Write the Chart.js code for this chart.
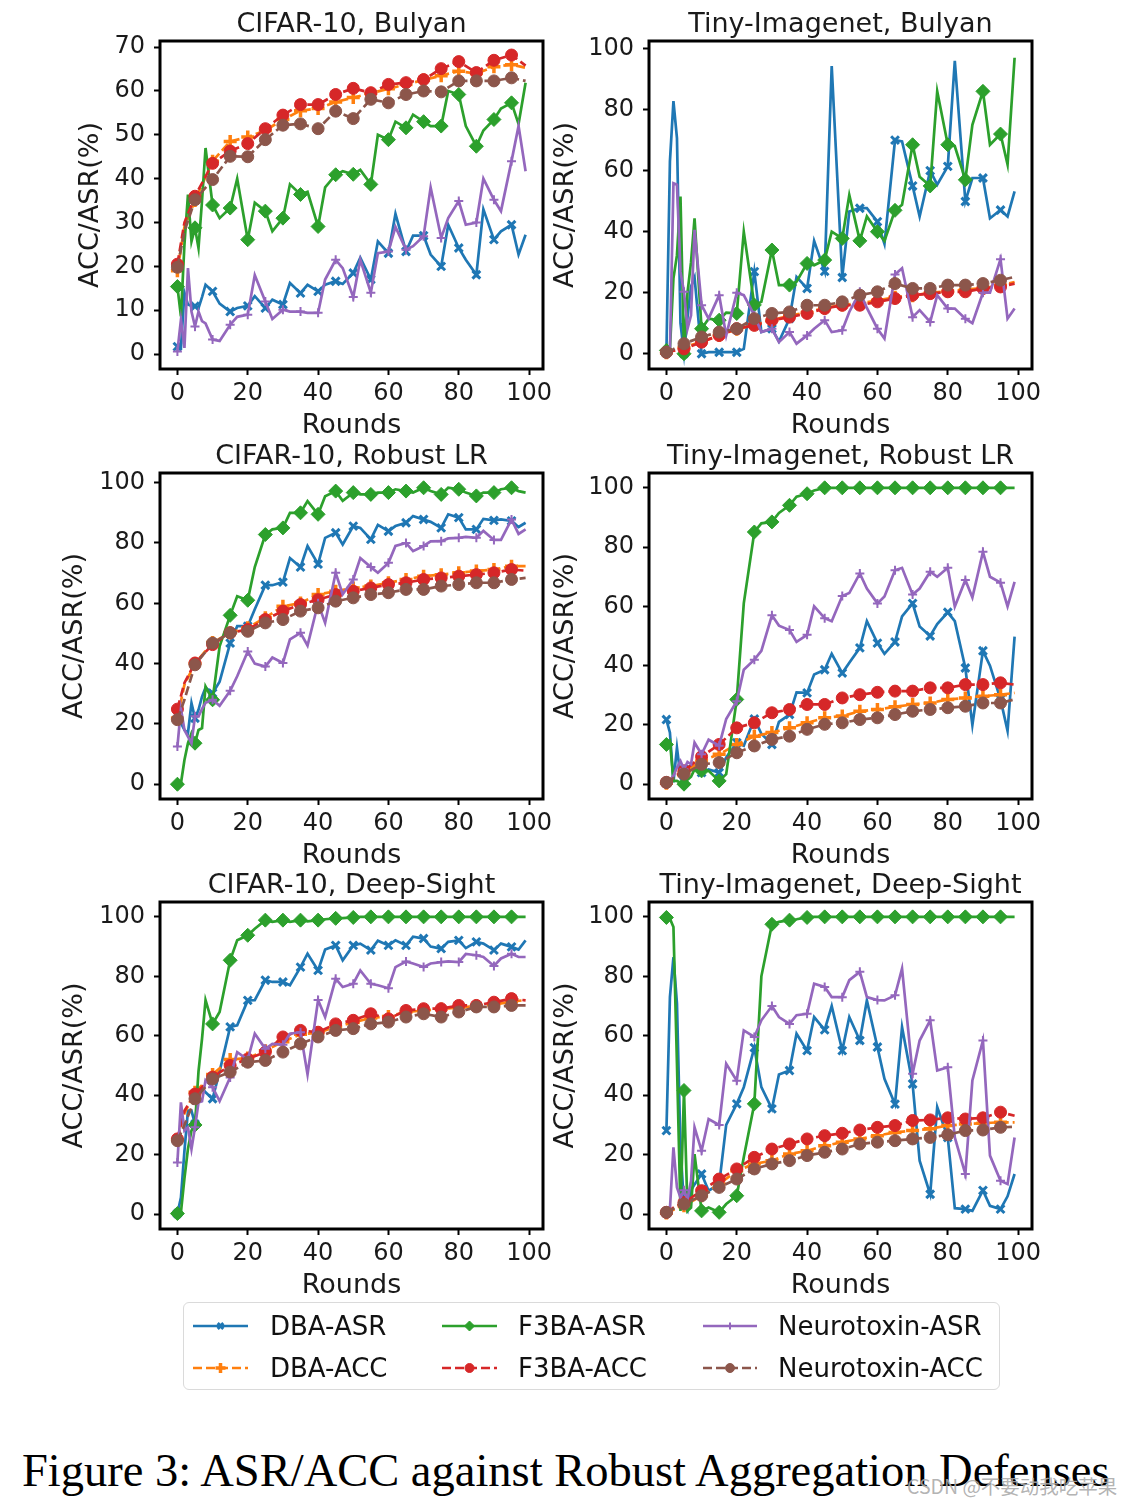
<!DOCTYPE html>
<html>
<head>
<meta charset="utf-8">
<title>ASR/ACC against Robust Aggregation Defenses</title>
<script src="https://cdn.jsdelivr.net/npm/chart.js@4.4.1/dist/chart.umd.min.js"></script>
<style>
html,body{margin:0;padding:0;background:#fff;}
body{width:1133px;height:1504px;position:relative;overflow:hidden;}
.panel{position:absolute;}
#legendBox{position:absolute;left:183px;top:1302px;width:817px;height:88px;box-sizing:border-box;border:1.5px solid #dadada;border-radius:6px;background:#fff;}
#legendCanvas{position:absolute;left:183px;top:1302px;}
.lg{position:absolute;font-family:"DejaVu Sans",sans-serif;font-size:26px;line-height:30px;height:30px;color:#111;white-space:nowrap;}
#caption{position:absolute;left:22px;top:1448px;font-family:"Liberation Serif","Times New Roman",serif;font-size:46.5px;line-height:46px;color:#000;white-space:nowrap;}
#watermark{position:absolute;left:907px;top:1476px;font-family:"Noto Sans CJK SC","Noto Sans",sans-serif;font-size:19.5px;line-height:20px;color:rgba(170,170,170,0.9);white-space:nowrap;}
</style>
</head>
<body>
<div id="legendBox"></div>
<canvas id="legendCanvas" width="817" height="88"></canvas>
<div id="caption">Figure 3: ASR/ACC against Robust Aggregation Defenses</div>
<div id="watermark">CSDN @不要动我吃苹果</div>
<script>
// ---------------- DATA ----------------
const ROUNDS_ASR = [0,1,2,3,4,5,6,7,8,10,12,15,17,20,22,25,27,30,32,35,37,40,42,45,47,50,52,55,57,60,62,65,67,70,72,75,77,80,82,85,87,90,92,95,97,99];
const ROUNDS_ACC = [0,2,5,10,15,20,25,30,35,40,45,50,55,60,65,70,75,80,85,90,95,99];
const SERIES = ['DBA-ASR','DBA-ACC','F3BA-ASR','F3BA-ACC','Neurotoxin-ASR','Neurotoxin-ACC'];
const PANEL_TITLES = ['CIFAR-10, Bulyan','Tiny-Imagenet, Bulyan','CIFAR-10, Robust LR','Tiny-Imagenet, Robust LR','CIFAR-10, Deep-Sight','Tiny-Imagenet, Deep-Sight'];
const X_TICKS = [0,20,40,60,80,100];
const Y_TICKS_70 = [0,10,20,30,40,50,60,70];
const Y_TICKS_100 = [0,20,40,60,80,100];
const X_TITLE = 'Rounds';
const Y_TITLE = 'ACC/ASR(%)';

// CIFAR-10, Bulyan
const c10_bulyan_dbaAsr = [1.7,1.4,14,11.3,11,10.9,10.5,13,15.8,14.3,11.5,9.7,10.5,11,13.2,10.5,12.4,11.3,16.2,13.9,15.8,14.3,15.8,16.6,16,18.5,22,17,25.7,23,32,23.4,27,27,22.7,20,29.5,24.2,21.5,18.1,33,26.1,28,29.5,22.7,27.2];
const c10_bulyan_dbaAcc = [19,29,35,44,48.5,49.5,51,53.5,55.5,56,57.5,58.5,59.5,60.5,61.5,62.5,63.5,64.5,64,65.5,66,65.3];
const c10_bulyan_f3baAsr = [15.4,8.6,25,36.4,25.7,28.8,24.2,35,47,34,31,33.3,40,26.1,34.5,32.6,28,31,38.7,36.4,37,29.1,38,40.9,41.7,41,42,38.7,50,48.9,53,51.6,54.6,53,52,52,60,59.2,52,47.4,51,53.5,56,57.3,52.5,61.9];
const c10_bulyan_f3baAcc = [20.5,30,36,43.5,46.3,48,51.4,54.5,56.9,56.9,59.2,60.6,59.6,61.5,61.9,62.6,65.1,66.7,64.2,67,68.2,65.8];
const c10_bulyan_neuroAsr = [0.6,7.8,1.4,19.6,9.7,6.3,9.7,7.5,7,3.3,3,6.7,8.5,9,18,12,8,10.1,9.7,9.7,9.4,9.4,17,21.5,19.6,13,21.5,14,23,23.4,29,23.8,24.6,26.9,38,26.5,31,34.9,29.5,30,40,35.2,32.6,44,52,41.7];
const c10_bulyan_neuroAcc = [19.8,28,35.2,39.8,45.1,45,48.9,52.2,52.5,51.4,55.4,53.7,58.1,57.3,59.2,60,59.8,62.3,62.3,62.3,63,62.3];

// Tiny-Imagenet, Bulyan
const tiny_bulyan_dbaAsr = [0.5,63,82.8,70.7,10,0,12,22,25,0,0.5,0.5,0.5,0.5,1.6,26.9,7.1,8.2,4,11.5,25.2,21.4,37,27,94.3,25,46.6,47.7,47.7,43.3,36,70,69.6,55,45,60,55.4,61.4,96,49.9,57.6,57.6,44.4,47.1,45,53.2];
const tiny_bulyan_dbaAcc = [0.3,1,2,4,6,8,9.5,11,12.5,13.5,15,16,16.5,17.5,18.5,19,20,20.5,21,21.5,22.5,23.5];
const tiny_bulyan_f3baAsr = [1.1,1.6,24.7,32.3,51.5,0,20,30,44.4,8.2,11.5,11,13.5,13.2,40,16,17,34,22.5,22.5,23.6,29.6,29,30.7,40,37.8,52,37,45,40,37,47,48.8,68.5,58,55,86,68.5,68,57,75,86,68.5,72,62,97];
const tiny_bulyan_f3baAcc = [0.5,1,1.6,3.8,6,8.2,9.3,11,12,13.2,14.8,15.9,15.9,17,18.1,19.2,19.7,20.3,20.3,21.4,21.9,23];
const tiny_bulyan_neuroAsr = [0,0.5,55.9,55.4,26.9,20.3,8.2,12.6,40.6,15.9,11.5,19.2,6,20,19.2,12.6,7.1,8.2,3.8,7.1,3.3,6,8.2,11,7.1,7.7,13.7,20.3,15,8.2,5,26,28,12,14.3,10.4,19.2,14.8,14.8,11.5,10,20,20,31,11.5,14.8];
const tiny_bulyan_neuroAcc = [0.5,1.5,3.3,5.5,7.1,8.2,11.5,13.2,13.7,15.9,15.9,17,19.2,20.3,23,21.4,21.4,22.5,22.5,23,24.1,25.2];

// CIFAR-10, Robust LR
const c10_rlr_dbaAsr = [24.7,20.3,18,17,26.9,21.9,24.7,29,32,30.2,34,46.8,52.4,52.4,58,66,66,67,75,72,79,73,81.7,83.4,79.5,85.6,85,81.2,86,83.9,85.6,86.7,88.9,87.8,87,85,89.5,88.4,84.5,84.5,88,87.5,87.8,87.3,85.3,86.7];
const c10_rlr_dbaAcc = [22,33,40,47,50.2,51.9,55.2,59,60.1,62.9,64,65.1,65.7,66.8,67.9,69,69.5,70.1,70.7,71.2,72.3,72.3];
const c10_rlr_f3baAsr = [0,0.3,8,13.6,16.9,13.6,18,18.6,32.4,28,45.7,56,62.3,61,72,82.8,84.5,85,90,90,93.9,89.5,95.5,97.2,94,96.7,96.1,96.1,96.7,96.7,97.8,97.2,96.7,98.3,97.2,96.1,98.3,97.8,96.7,95.6,96.7,96.7,97.8,98.3,97.2,96.7];
const c10_rlr_f3baAcc = [24.9,33.6,40.2,46.3,50.2,51.3,54.6,57.4,59.6,61.2,62.9,64,65.1,66.2,66.8,67.9,68.4,69,69.5,70.1,71.2,70.8];
const c10_rlr_neuroAsr = [12.5,25,18,15.8,13.6,22.5,22.5,25,27,28,26,31,35.8,44,40,39,42,40.2,48,50.2,46,60,53.5,70.1,63,67.9,75,72,70.1,73.4,79,80,77.3,79,80.5,80.6,81.5,81.7,82,81.7,84,81,81,87.8,83,84.5];
const c10_rlr_neuroAcc = [21.4,28,39.6,46.8,50.2,50.7,53.5,54.6,57.4,58.5,60.7,61.8,62.9,63.5,64.6,64.6,65.7,66.2,66.8,66.8,67.9,68.4];

// Tiny-Imagenet, Robust LR
const tiny_rlr_dbaAsr = [21.8,17.4,0.6,12.3,2.8,2.8,6,5.6,5,3.9,5,3.9,9,14,13,22,17,13.4,21,23.5,31,30.8,37,38.6,44,37.5,41,46,55,47.6,44,48,56.6,61,53.2,50,54,58,55,39.2,20,45,40,28.6,18,49.8];
const tiny_rlr_dbaAcc = [0.3,2,3.9,7.8,10.1,13.4,16.2,17.4,19,20.7,22.4,23,24.6,25.2,26.1,26.9,27.4,28.6,29.1,29.7,30.2,30.8];
const tiny_rlr_f3baAsr = [13.4,14.6,1.1,1.1,0.5,0,1.5,2.5,5,4.5,4.5,1.1,3.4,28.6,61,85.1,88,88.5,91.5,94.1,97,98,99.1,100,100,100,100,100,100,100,100,100,100,100,100,100,100,100,100,100,100,100,100,100,100,100];
const tiny_rlr_f3baAcc = [0.6,2.5,4.5,9.3,13.4,19,20.7,24.1,25.2,26.9,26.9,29.1,30.2,31,31.4,31.4,32.5,32.5,33.6,33.6,34.2,33.6];
const tiny_rlr_neuroAsr = [0.6,1.1,2.8,5.6,7.8,5,7.5,6.7,14,10.1,15,13,22,28,38.6,42,45,57,53.5,52,48,50.4,60,56,55,63.5,64.5,71.1,66,61,63.3,72.2,73,64,66,71.7,70,73,59.9,68.9,63,78.4,70,68,60,68.3];
const tiny_rlr_neuroAcc = [0.6,2,3.4,6.7,7.3,10.6,12.9,15.1,16.2,18.5,20.2,20.7,21.8,22.4,23.5,24.6,25.2,25.8,26.3,27.4,27.4,28.6];

// CIFAR-10, Deep-Sight
const c10_ds_dbaAsr = [0.2,5.6,21.3,34.8,34.8,30.3,41,42.5,41,38.8,48,63,63.5,71.9,72,78.7,78.1,78.1,77,83.1,87.6,82,89,90.4,85.4,90.4,91,88.8,92,90.4,92.1,90.4,93.3,92.7,90,89.3,91.6,92.1,89.5,91.6,91,88.8,91,89.9,89,92.1];
const c10_ds_dbaAcc = [25,34,41,47,52,52.5,55,58,60.5,61,63,64.5,66,66.5,68,68.5,69,69.5,70,70.5,71.5,72];
const c10_ds_f3baAsr = [0.2,0.6,12,22,28.1,30,48,59,72,64,68,85.4,92.1,93.8,96,98.9,98.3,98.9,98.3,98.9,98.5,98.9,99.2,99.5,99.6,99.8,100,100,100,100,100,100,100,100,100,100,100,100,100,100,100,100,100,100,100,100];
const c10_ds_f3baAcc = [25.3,34.8,40.4,46.1,50,52.2,54.5,59.6,61.8,61.2,64,65.2,67.4,65.7,68.5,69.1,69.1,70.2,70.2,71.3,72.5,71.9];
const c10_ds_neuroAsr = [17.4,37.6,28.1,29.2,21.9,29.2,37.6,38,45,42.7,38,46,54.5,52,60.7,55.6,57.3,57,60.7,61.2,47,72,66.3,79.2,76.4,77.5,82,77.5,77,76,83.1,85,84.3,83.1,84.3,84.8,85,84.8,87.5,87.1,86.5,83.5,86,87.6,86.5,86.5];
const c10_ds_neuroAcc = [24.7,30,38.8,45.5,47.8,51.1,51.7,54.5,57.3,59.6,61.8,62.4,64,64.6,66.3,67.4,66.3,68,69.7,69.7,70.2,70.2];

// Tiny-Imagenet, Deep-Sight
const tiny_ds_dbaAsr = [28.1,73,86.5,70.8,22.5,3,1.1,8,10,13.5,7.9,10.1,30,37.1,42.7,56,42.7,35.4,47,48.3,60.7,55,66.3,62,70,55,66.3,58.4,71.9,56.2,45.5,37,62.9,43.8,18,6.7,36,25.8,2,1.7,1.1,8,2.8,1.7,6,13.5];
const tiny_ds_dbaAcc = [0.4,1.5,2.8,6.2,10.1,14.6,16.9,18,20.2,21.3,23,24.2,25.3,26.4,27.5,28.1,28.7,29.8,30.3,30.6,30.9,30.9];
const tiny_ds_f3baAsr = [99.8,99.4,96.6,50.6,1.1,41.6,1.1,2.2,20.2,1.1,2.2,0.6,3.4,6.2,19.1,37.1,80,97.5,98.3,98.9,99.2,99.8,100,100,100,100,100,100,100,100,100,100,100,100,100,100,100,100,100,100,100,100,100,100,100,100];
const tiny_ds_f3baAcc = [0.6,2.2,3.9,7.9,11.8,15.2,19.1,21.9,23.6,25.3,26.4,27.2,28.3,29.2,29.8,31.5,31.7,32.4,32,32.4,34.3,33.1];
const tiny_ds_neuroAsr = [0.6,1.7,22.5,9,5.6,8,5,11.2,29.2,21.3,32,30,50.6,44.9,61.8,59.6,65.2,70,66.3,64,66.9,67.4,77.5,76.4,73,73,78.7,81.5,73,72,71.9,73.6,82.6,47.2,58.4,65.2,48.3,49.4,25.8,13.5,45,58.4,19.7,11.2,10.1,25.8];
const tiny_ds_neuroAcc = [0.6,1.8,3.4,6.2,9,11.8,15.2,16.9,18,19.7,20.8,21.9,23.6,24.2,24.7,25.3,25.8,26.7,28.1,28.3,29.2,29.4];

// ---------------- STYLE / LAYOUT ----------------
const FONT = '"DejaVu Sans", sans-serif';
const TEXT_COLOR = '#1a1a1a';
const STYLES = {
  'DBA-ASR':        {color:'#1f77b4', dash:[],    lw:2.7, marker:'crossRot', r:5.5, pbw:3,   lr:4},
  'DBA-ACC':        {color:'#ff7f0e', dash:[9,4], lw:2.7, marker:'cross',    r:6.5, pbw:3.5, lr:5},
  'F3BA-ASR':       {color:'#2ca02c', dash:[],    lw:2.7, marker:'rectRot',  r:7,   pbw:1,   lr:5},
  'F3BA-ACC':       {color:'#d62728', dash:[9,4], lw:2.7, marker:'circle',   r:6,   pbw:1,   lr:4.5},
  'Neurotoxin-ASR': {color:'#9467bd', dash:[],    lw:2.7, marker:'cross',    r:4.5, pbw:2,   lr:3.5},
  'Neurotoxin-ACC': {color:'#8c564b', dash:[9,4], lw:2.7, marker:'circle',   r:6,   pbw:1,   lr:4.5}
};

const PANELS = [
  {title:PANEL_TITLES[0], box:{l:160,t:41,r:543,b:369},  y:[-3.4,71.4], yTicks:Y_TICKS_70,  yTitlePad:24.5,
   data:[c10_bulyan_dbaAsr,c10_bulyan_dbaAcc,c10_bulyan_f3baAsr,c10_bulyan_f3baAcc,c10_bulyan_neuroAsr,c10_bulyan_neuroAcc]},
  {title:PANEL_TITLES[1], box:{l:649,t:41,r:1032,b:369}, y:[-5,102.5],  yTicks:Y_TICKS_100, yTitlePad:10.3,
   data:[tiny_bulyan_dbaAsr,tiny_bulyan_dbaAcc,tiny_bulyan_f3baAsr,tiny_bulyan_f3baAcc,tiny_bulyan_neuroAsr,tiny_bulyan_neuroAcc]},
  {title:PANEL_TITLES[2], box:{l:160,t:473,r:543,b:799}, y:[-4.9,103.2], yTicks:Y_TICKS_100, yTitlePad:8.8,
   data:[c10_rlr_dbaAsr,c10_rlr_dbaAcc,c10_rlr_f3baAsr,c10_rlr_f3baAcc,c10_rlr_neuroAsr,c10_rlr_neuroAcc]},
  {title:PANEL_TITLES[3], box:{l:649,t:473,r:1032,b:799}, y:[-5,105],   yTicks:Y_TICKS_100, yTitlePad:10.3,
   data:[tiny_rlr_dbaAsr,tiny_rlr_dbaAcc,tiny_rlr_f3baAsr,tiny_rlr_f3baAcc,tiny_rlr_neuroAsr,tiny_rlr_neuroAcc]},
  {title:PANEL_TITLES[4], box:{l:160,t:902,r:543,b:1229}, y:[-5,105],   yTicks:Y_TICKS_100, yTitlePad:8.8,
   data:[c10_ds_dbaAsr,c10_ds_dbaAcc,c10_ds_f3baAsr,c10_ds_f3baAcc,c10_ds_neuroAsr,c10_ds_neuroAcc]},
  {title:PANEL_TITLES[5], box:{l:649,t:902,r:1032,b:1229}, y:[-5,105],  yTicks:Y_TICKS_100, yTitlePad:10.3,
   data:[tiny_ds_dbaAsr,tiny_ds_dbaAcc,tiny_ds_f3baAsr,tiny_ds_f3baAcc,tiny_ds_neuroAsr,tiny_ds_neuroAcc]}
];

const W_Y = 110, TOP = 50, H_X = 80, RP = 30;

const framePlugin = {
  id: 'frame',
  afterDraw(chart, args, opts) {
    const {ctx, chartArea: a} = chart;
    ctx.save();
    ctx.setLineDash([]);
    ctx.lineWidth = 3;
    ctx.strokeStyle = '#000';
    ctx.strokeRect(a.left, a.top, a.right - a.left, a.bottom - a.top);
    ctx.font = '27px ' + FONT;
    ctx.fillStyle = TEXT_COLOR;
    ctx.textAlign = 'center';
    ctx.textBaseline = 'alphabetic';
    ctx.fillText(opts.title, (a.left + a.right) / 2, a.top - 9);
    ctx.restore();
  }
};

PANELS.forEach((p) => {
  const pw = p.box.r - p.box.l, ph = p.box.b - p.box.t;
  const cv = document.createElement('canvas');
  cv.className = 'panel';
  cv.width = W_Y + pw + RP;
  cv.height = TOP + ph + H_X;
  cv.style.width = cv.width + 'px';
  cv.style.height = cv.height + 'px';
  cv.style.left = (p.box.l - W_Y) + 'px';
  cv.style.top = (p.box.t - TOP) + 'px';
  document.body.appendChild(cv);

  const datasets = SERIES.map((name, i) => {
    const st = STYLES[name];
    const rounds = name.endsWith('ASR') ? ROUNDS_ASR : ROUNDS_ACC;
    const vals = p.data[i];
    return {
      label: name,
      data: rounds.map((r, k) => ({x: r, y: vals[k]})),
      borderColor: st.color,
      backgroundColor: st.color,
      borderWidth: st.lw,
      borderDash: st.dash,
      pointStyle: st.marker,
      pointRadius: (c) => { const r = rounds[c.dataIndex]; return (r % 5 === 0 && r < 99) ? st.r : 0; },
      pointHoverRadius: 0,
      pointBorderWidth: st.pbw,
      pointBackgroundColor: st.color,
      pointBorderColor: st.color,
      tension: 0,
      fill: false,
      order: SERIES.length - 1 - i
    };
  });

  new Chart(cv, {
    type: 'line',
    data: {datasets},
    plugins: [framePlugin],
    options: {
      responsive: false,
      animation: false,
      devicePixelRatio: 1,
      events: [],
      layout: {padding: {left: 0, top: TOP, right: RP, bottom: 0}},
      plugins: {legend: {display: false}, tooltip: {enabled: false}, title: {display: false}, frame: {title: p.title}},
      scales: {
        x: {
          type: 'linear', min: -4.95, max: 103.95,
          afterBuildTicks: (s) => { s.ticks = X_TICKS.map(v => ({value: v})); },
          afterFit: (s) => { s.height = H_X; },
          grid: {display: true, drawOnChartArea: false, drawTicks: true, tickLength: 6, tickWidth: 2, tickColor: '#000', color: '#000'},
          border: {display: false},
          ticks: {font: {family: FONT, size: 24}, color: TEXT_COLOR, padding: 4, maxRotation: 0, autoSkip: false, callback: (v) => String(v)},
          title: {display: true, text: X_TITLE, font: {family: FONT, size: 27}, color: TEXT_COLOR, padding: {top: 0, bottom: 6.5}}
        },
        y: {
          type: 'linear', min: p.y[0], max: p.y[1],
          afterBuildTicks: (s) => { s.ticks = p.yTicks.map(v => ({value: v})); },
          afterFit: (s) => { s.width = W_Y; },
          grid: {display: true, drawOnChartArea: false, drawTicks: true, tickLength: 6, tickWidth: 2, tickColor: '#000', color: '#000'},
          border: {display: false},
          ticks: {font: {family: FONT, size: 24}, color: TEXT_COLOR, padding: 9, autoSkip: false, callback: (v) => String(v)},
          title: {display: true, text: Y_TITLE, font: {family: FONT, size: 27}, color: TEXT_COLOR, padding: {top: p.yTitlePad, bottom: 0}}
        }
      }
    }
  });
});

// ---------------- LEGEND ----------------
const LEGEND_POS = [
  {name:'DBA-ASR',        x0:10,  x1:65,  y:24, tx:270, ty:1311},
  {name:'DBA-ACC',        x0:10,  x1:65,  y:66, tx:270, ty:1353},
  {name:'F3BA-ASR',       x0:259, x1:314, y:24, tx:518, ty:1311},
  {name:'F3BA-ACC',       x0:259, x1:314, y:66, tx:518, ty:1353},
  {name:'Neurotoxin-ASR', x0:520, x1:574, y:24, tx:778, ty:1311},
  {name:'Neurotoxin-ACC', x0:520, x1:574, y:66, tx:778, ty:1353}
];
(function drawLegend() {
  const lc = document.getElementById('legendCanvas');
  const ctx = lc.getContext('2d');
  LEGEND_POS.forEach(e => {
    const st = STYLES[e.name];
    ctx.save();
    ctx.strokeStyle = st.color;
    ctx.fillStyle = st.color;
    ctx.lineWidth = st.lw;
    ctx.setLineDash(st.dash);
    ctx.beginPath();
    ctx.moveTo(e.x0, e.y);
    ctx.lineTo(e.x1, e.y);
    ctx.stroke();
    ctx.setLineDash([]);
    ctx.lineWidth = st.pbw;
    const mx = (e.x0 + e.x1) / 2;
    if (Chart.helpers && Chart.helpers.drawPoint) {
      Chart.helpers.drawPoint(ctx, {pointStyle: st.marker, radius: st.lr, borderWidth: st.pbw, rotation: 0}, mx, e.y);
    } else {
      ctx.beginPath(); ctx.arc(mx, e.y, st.lr, 0, Math.PI * 2); ctx.fill();
    }
    ctx.restore();
    const sp = document.createElement('div');
    sp.className = 'lg';
    sp.style.left = e.tx + 'px';
    sp.style.top = e.ty + 'px';
    sp.textContent = e.name;
    document.body.appendChild(sp);
  });
})();
</script>
</body>
</html>
